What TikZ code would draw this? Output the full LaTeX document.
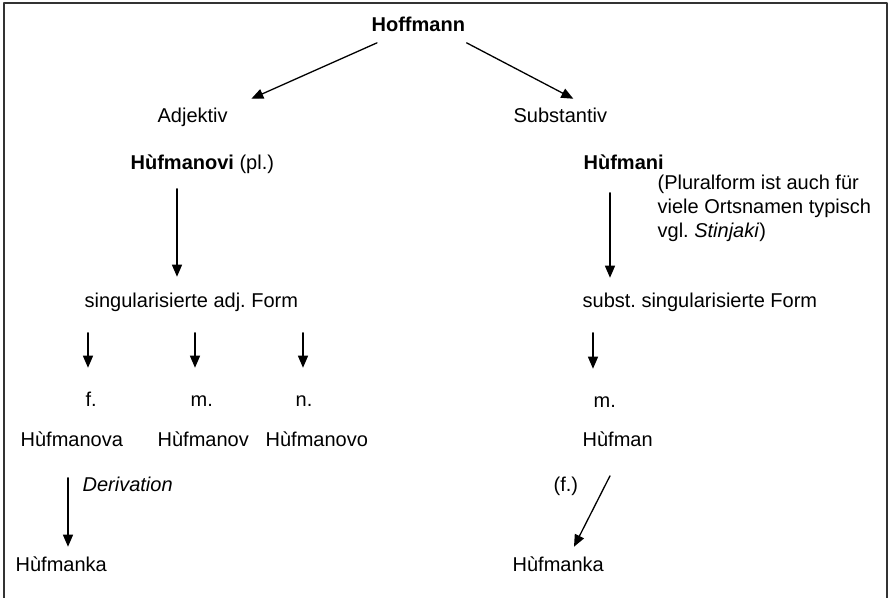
\documentclass[tikz,border=0pt]{standalone}
\usepackage{fontspec}
\setmainfont{Liberation Sans}
\usetikzlibrary{arrows.meta,calc}
\frenchspacing
\tikzstyle{every node}=[font=\fontsize{10}{12}\selectfont,inner sep=0pt]
\tikzstyle{every path}=[line width=0.65pt,line cap=round,line join=round]
\tikzstyle{word}=[anchor=base west,text height=7.3pt,text depth=2.1pt]
\tikzstyle{arr}=[-{Triangle[length=6pt,width=5pt]}]

\begin{document}
\begin{tikzpicture}[x=0.5pt,y=-0.5pt]
  \useasboundingbox (0,0) rectangle (890,598);
  \draw[line width=1pt,black!80] (4,598)--(4,3)--(887,3)--(887,598);
  % Wurzel
  \node[word] (hoff) at (371,32) {\textbf{Hoffmann}};
  \node[word] (adj) at (157,123) {Adjektiv};
  \node[word] (subst) at (513,123) {Substantiv};
  % adjektivischer Zweig
  \node[word] (hfvi) at (130,170) {\textbf{Hùfmanovi} (pl.)};
  \node[word] (sadj) at (84,308) {singularisierte adj. Form};
  \node[word] (fem) at (85,407) {f.};
  \node[word] (mas) at (190,407) {m.};
  \node[word] (neu) at (295,407) {n.};
  \node[word] (hfova) at (20,447) {Hùfmanova};
  \node[word] (hfov) at (157,447) {Hùfmanov};
  \node[word] (hfovo) at (265,447) {Hùfmanovo};
  \node[word] (deriv) at (82,492) {\textit{Derivation}};
  \node[word] (hfkaA) at (15,572) {Hùfmanka};
  % substantivischer Zweig
  \node[word] (hfi) at (583,170) {\textbf{Hùfmani}};
  \node[anchor=north west,align=left] (note) at (657,174)
    {(Pluralform ist auch für\\viele Ortsnamen typisch\\vgl. \textit{Stinjaki})};
  \node[word] (ssubst) at (582,308) {subst. singularisierte Form};
  \node[word] (masR) at (593,408) {m.};
  \node[word] (hfman) at (582,447) {Hùfman};
  \node[word] (fpar) at (553,492) {(f.)};
  \node[word] (hfkaB) at (512,572) {Hùfmanka};
  % Pfeile
  \draw[arr] ($(hoff.south west)+(6,6)$) -- ($(adj.north east)+(23,-9)$);
  \draw[arr] ($(hoff.south east)+(1,6)$) -- ($(subst.north)+(13,-9)$);
  \draw[arr] ($(hfvi.south west)+(47,14)$) -- ($(sadj.north west)+(93,-16)$);
  \draw[arr] ($(sadj.south west)+(4,20)$) -- ($(fem.north west)+(3,-24)$);
  \draw[arr] ($(sadj.south west)+(111,20)$) -- ($(mas.north west)+(5,-24)$);
  \draw[arr] ($(sadj.south west)+(219,20)$) -- ($(neu.north west)+(8,-24)$);
  \draw[arr] ($(hfova.south west)+(48,26)$) -- ($(hfkaA.north west)+(53,-10)$);
  \draw[arr] ($(hfi.south west)+(27,18)$) -- ($(ssubst.north west)+(28,-15)$);
  \draw[arr] ($(ssubst.south west)+(11,20)$) -- ($(masR.north west)+(0,-24)$);
  \draw[arr] ($(hfman.south west)+(28,24)$) -- ($(hfkaB.north west)+(62,-10)$);
\end{tikzpicture}
\end{document}
